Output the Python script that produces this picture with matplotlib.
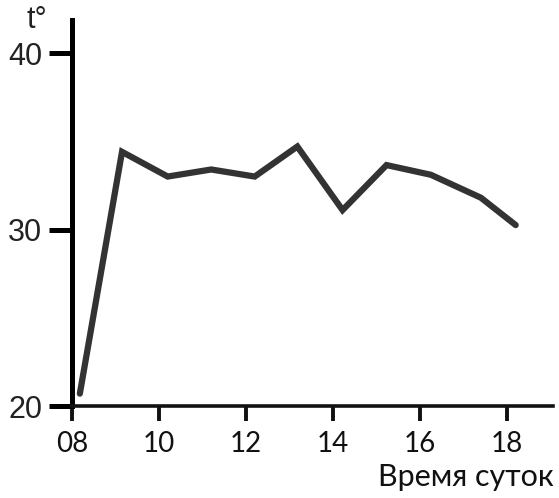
import matplotlib
matplotlib.use("Agg")
from matplotlib import pyplot as plt

# temperature through the day
hours = [8.18, 9.15, 10.2, 11.2, 12.2, 13.18, 14.22, 15.23, 16.25, 17.4, 18.2]
temps = [20.7, 34.4, 33.0, 33.4, 33.0, 34.7, 31.1, 33.65, 33.1, 31.8, 30.25]

x_ticks = [8, 10, 12, 14, 16, 18]
x_labels = ["08", "10", "12", "14", "16", "18"]
y_ticks = [20, 30, 40]

W, H = 559, 498
fig = plt.figure(figsize=(W / 100, H / 100), dpi=100)
ax = fig.add_axes([72 / W, 92 / H, 481 / W, 386 / H])

ax.plot(hours, temps, color="#333333", lw=4.5, solid_joinstyle="miter", solid_capstyle="round")

ax.set_xlim(8, 8 + 481 / 43.5)
ax.set_ylim(20, 20 + 386 / 17.65)

for s in ["top", "right"]:
    ax.spines[s].set_visible(False)
ax.spines["left"].set_linewidth(3.6)
ax.spines["bottom"].set_linewidth(2.6)
ax.spines["left"].set_color("black")
ax.spines["bottom"].set_color("#111111")

ax.set_yticks(y_ticks)
ax.set_yticklabels([str(v) for v in y_ticks], fontsize=22, family="Liberation Sans", color="#222222")
ax.tick_params(axis="y", direction="out", length=16.5, width=3.6, pad=5, color="black")

ax.set_xticks(x_ticks)
ax.set_xticklabels(x_labels, fontsize=20, family="Lato", color="#111111")
ax.tick_params(axis="x", direction="out", length=10.8, width=2.8, pad=7, color="#111111")

fig.text(37 / W, 1 - 20 / H, "t°", fontsize=22, family="Liberation Sans", color="#222222",
         ha="center", va="center")
fig.text(554 / W, 1 - 477 / H, "Время суток", fontsize=22, family="Lato", color="#111111",
         ha="right", va="center")

fig.savefig("out.png", dpi=100, facecolor="white")
